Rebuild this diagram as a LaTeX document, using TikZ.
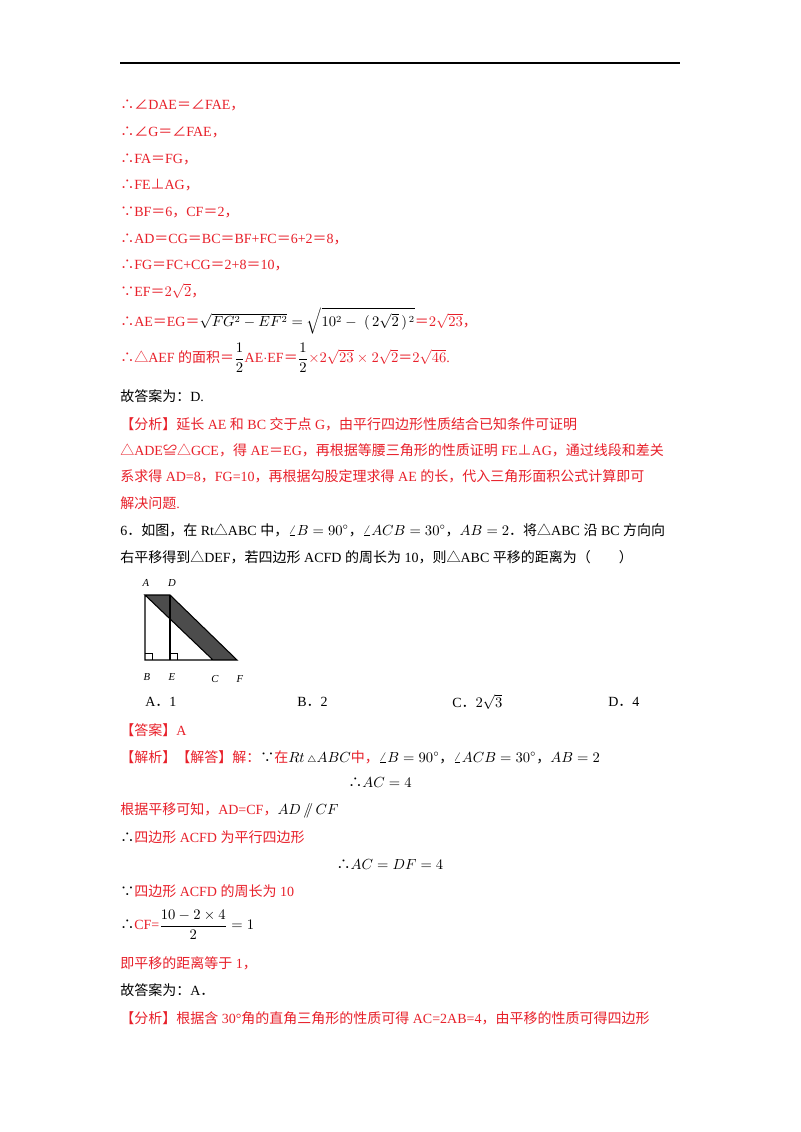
\documentclass[tikz,border=0pt]{standalone}
\usepackage{amsmath}
\usepackage{fontspec}
\setmainfont{Liberation Serif}
\newfontfamily\cjk{Noto Sans CJK SC}
\newcommand{\zh}[1]{{\cjk #1}}
\definecolor{rd}{HTML}{E8202A}
\begin{document}
\begin{tikzpicture}[x=0.75pt,y=-0.75pt,
  t/.style={anchor=west,inner sep=0pt,font=\fontsize{10.5}{12}\selectfont,text=rd},
  k/.style={t,text=black},
  lb/.style={inner sep=0pt,font=\fontsize{8}{9}\selectfont\itshape}]
\useasboundingbox (0,0) rectangle (800,1132);
\fill[white] (0,0) rectangle (800,1132);
\draw[line width=0.8pt] (120,63) -- (680,63);
\node[t] (l1) at (120,105) {\zh{∴∠}DAE\zh{＝∠}FAE\zh{，}};
\node[t] (l2) at (120,132) {\zh{∴∠}G\zh{＝∠}FAE\zh{，}};
\node[t] (l3) at (120,159) {\zh{∴}FA\zh{＝}FG\zh{，}};
\node[t] (l4) at (120,185) {\zh{∴}FE\zh{⊥}AG\zh{，}};
\node[t] (l5) at (120,212) {\zh{∵}BF\zh{＝}6\zh{，}CF\zh{＝}2\zh{，}};
\node[t] (l6) at (120,239) {\zh{∴}AD\zh{＝}CG\zh{＝}BC\zh{＝}BF+FC\zh{＝}6+2\zh{＝}8\zh{，}};
\node[t] (l7) at (120,265) {\zh{∴}FG\zh{＝}FC+CG\zh{＝}2+8\zh{＝}10\zh{，}};
\node[t] (l8) at (120,291) {\zh{∵}EF\zh{＝}$2\sqrt{2}$\zh{，}};
\node[t] (l9) at (120,321) {\zh{∴}AE\zh{＝}EG\zh{＝}\textcolor{black}{$\sqrt{FG^2-EF^2}=\sqrt{10^2-\;(\,2\sqrt{2}\,)^{\,2}}$}\zh{＝}$2\sqrt{23}$\zh{，}};
\node[t] (l10) at (120,358) {\zh{∴△}AEF \zh{的面积＝}\textcolor{black}{$\dfrac{1}{2}$}AE$\cdot$EF\zh{＝}\textcolor{black}{$\dfrac{1}{2}$}$\times2\sqrt{23}\times2\sqrt{2}$\zh{＝}$2\sqrt{46}$.};
\node[k] (l11) at (120,396) {\zh{故答案为：}D.};
\node[t] (l12) at (120,424) {\zh{【分析】延长} AE \zh{和} BC \zh{交于点} G\zh{，由平行四边形性质结合已知条件可证明}};
\node[t] (l13) at (120,450) {\zh{△}ADE\zh{≌△}GCE\zh{，得} AE\zh{＝}EG\zh{，再根据等腰三角形的性质证明} FE\zh{⊥}AG\zh{，通过线段和差关}};
\node[t] (l14) at (120,476) {\zh{系求得} AD=8\zh{，}FG=10\zh{，再根据勾股定理求得} AE \zh{的长，代入三角形面积公式计算即可}};
\node[t] (l15) at (120,503) {\zh{解决问题}.};
\node[k] (l16) at (120,530) {6\zh{．如图，在} Rt\zh{△}ABC \zh{中，}$\angle B=90^\circ$\zh{，}$\angle ACB=30^\circ$\zh{，}$AB=2$\zh{．将△}ABC \zh{沿} BC \zh{方向向}};
\node[k] (l17) at (120,557) {\zh{右平移得到△}DEF\zh{，若四边形} ACFD \zh{的周长为} 10\zh{，则△}ABC \zh{平移的距离为（\quad\quad ）}};
% figure
\coordinate (A) at (145,595); \coordinate (D) at (170,595);
\coordinate (B) at (145,660); \coordinate (E) at (170,660);
\coordinate (C) at (213,660); \coordinate (F) at (237,660);
\fill[black!70] (A) -- (D) -- (F) -- (C) -- cycle;
\draw[line width=0.8pt] (A) -- (B) -- (F) -- (D) -- (A) -- (C);
\draw[line width=0.8pt] (D) -- (E);
\draw[line width=0.6pt] (145,653) -- (152,653) -- (152,660);
\draw[line width=0.6pt] (170,653) -- (177,653) -- (177,660);
\node[lb] (la) at (146,583) {A}; \node[lb] (ld) at (172,583) {D};
\node[lb] (lb) at (147,677) {B}; \node[lb] (le) at (172,677) {E};
\node[lb] (lc) at (215,679) {C}; \node[lb] (lf) at (240,679) {F};
\node[k] (o1) at (145,702) {A\zh{．}1};
\node[k] (o2) at (297,702) {B\zh{．}2};
\node[k] (o3) at (452,702) {C\zh{．}$2\sqrt{3}$};
\node[k] (o4) at (608,702) {D\zh{．}4};
\node[t] (l18) at (120,730) {\zh{【答案】}A};
\node[t] (l19) at (120,757) {\zh{【解析】【解答】解：}\textcolor{black}{\zh{∵}}\zh{在}\textcolor{black}{$Rt\,{\scriptstyle\triangle}ABC$}\zh{中，}\textcolor{black}{$\angle B=90^\circ$\zh{，}$\angle ACB=30^\circ$\zh{，}$AB=2$}};
\node[k,anchor=center] (l20) at (380,783) {\zh{∴}$AC=4$};
\node[t] (l21) at (120,810) {\zh{根据平移可知，}AD=CF\zh{，}\textcolor{black}{$AD\,/\!\!/\,CF$}};
\node[t] (l22) at (120,837) {\textcolor{black}{\zh{∴}}\zh{四边形} ACFD \zh{为平行四边形}};
\node[k,anchor=center] (l23) at (390,864) {\zh{∴}$AC=DF=4$};
\node[t] (l24) at (120,891) {\textcolor{black}{\zh{∵}}\zh{四边形} ACFD \zh{的周长为} 10};
\node[t] (l25) at (120,925) {\textcolor{black}{\zh{∴}}CF=\textcolor{black}{$\dfrac{10-2\times4}{2}=1$}};
\node[t] (l26) at (120,963) {\zh{即平移的距离等于} 1\zh{，}};
\node[k] (l27) at (120,990) {\zh{故答案为：}A\zh{．}};
\node[t] (l28) at (120,1018) {\zh{【分析】根据含} 30°\zh{角的直角三角形的性质可得} AC=2AB=4\zh{，由平移的性质可得四边形}};
\end{tikzpicture}
\end{document}
